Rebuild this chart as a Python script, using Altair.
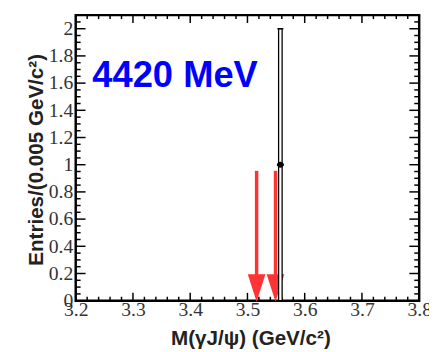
import altair as alt
import pandas as pd
import numpy as np

# ---- data ----
pt_x = [3.5575]
pt_y = [1.0]
pt_lo = [0.0]
pt_hi = [2.0]

arrow_x = [3.516, 3.549]
arrow_top = [0.955, 0.955]
arrow_head_bottom = [0.15, 0.15]
arrow_head_center = [0.094, 0.094]

x_major = [3.2, 3.3, 3.4, 3.5, 3.6, 3.7, 3.8]
y_major = [0, 0.2, 0.4, 0.6, 0.8, 1.0, 1.2, 1.4, 1.6, 1.8, 2.0]
x_minor = [v for v in np.round(np.arange(3.2, 3.8001, 0.02), 3).tolist() if round(v * 10, 6) % 1 != 0]
y_minor = [v for v in np.round(np.arange(0, 2.1001, 0.05), 3).tolist() if round(v * 5, 6) % 1 != 0]

label_text = ["4420 MeV"]
label_x = [3.229]
label_y = [1.575]

W, H = 350, 291
XD = [3.2, 3.8]
YD = [0, 2.1]

xs = alt.Scale(domain=XD, nice=False, zero=False)
ys = alt.Scale(domain=YD, nice=False, zero=False)

pts = pd.DataFrame({"x": pt_x, "y": pt_y, "lo": pt_lo, "hi": pt_hi})
arrows = pd.DataFrame({"x": arrow_x, "top": arrow_top, "hb": arrow_head_bottom, "hc": arrow_head_center})
xmaj = pd.DataFrame({"x": x_major})
xmin = pd.DataFrame({"x": x_minor})
ymaj = pd.DataFrame({"y": y_major})
ymin = pd.DataFrame({"y": y_minor})
lab = pd.DataFrame({"t": label_text, "x": label_x, "y": label_y})

xaxis = alt.Axis(
    values=x_major, format=".1f", tickSize=0, domain=False, grid=False,
    labelFont="Liberation Serif", labelFontSize=20, labelColor="#333",
    labelPadding=-1, labelFlush=False, labelOverlap=False,
    title="M(γJ/ψ) (GeV/c²)", titleFont="Liberation Sans", titleFontSize=21,
    titleFontWeight="bold", titleColor="#222", titleBaseline="middle",
    titleX=W / 2 + 3, titleY=39,
)
yaxis = alt.Axis(
    values=y_major, format="~g", tickSize=0, domain=False, grid=False,
    labelFont="Liberation Serif", labelFontSize=20, labelColor="#333",
    labelPadding=3, labelFlush=False, labelOverlap=False,
    title="Entries/(0.005 GeV/c²)", titleFont="Liberation Sans", titleFontSize=21,
    titleFontWeight="bold", titleColor="#222", titleBaseline="middle",
    titleX=-40, titleY=147, titleAngle=270,
)


def X(f):
    return alt.X(f, scale=xs, axis=xaxis)


def Y(f):
    return alt.Y(f, scale=ys, axis=yaxis)


def xticks(df, ln):
    b = alt.Chart(df).mark_rule(color="black", strokeWidth=1.5).encode(
        x=X("x:Q"), y=alt.value(H), y2=alt.value(H - ln))
    t = alt.Chart(df).mark_rule(color="black", strokeWidth=1.5).encode(
        x=X("x:Q"), y=alt.value(0), y2=alt.value(ln))
    return [b, t]


def yticks(df, ln):
    l = alt.Chart(df).mark_rule(color="black", strokeWidth=1.5).encode(
        y=Y("y:Q"), x=alt.value(0), x2=alt.value(ln))
    r = alt.Chart(df).mark_rule(color="black", strokeWidth=1.5).encode(
        y=Y("y:Q"), x=alt.value(W), x2=alt.value(W - ln))
    return [l, r]


ticks = xticks(xmaj, 8) + xticks(xmin, 4) + yticks(ymaj, 10) + yticks(ymin, 5)

errbar = alt.Chart(pts).mark_rect(
    fill="white", stroke="black", strokeWidth=1.3, xOffset=-1.8, x2Offset=1.8
).encode(x=X("x:Q"), x2="x", y=Y("lo:Q"), y2="hi")
cap = alt.Chart(pts).mark_rule(color="black", strokeWidth=1.5, xOffset=-3, x2Offset=3).encode(
    x=X("x:Q"), x2="x", y=Y("hi:Q"))
hbar = alt.Chart(pts).mark_rule(color="black", strokeWidth=2.5, xOffset=-3.5, x2Offset=3.5).encode(
    x=X("x:Q"), x2="x", y=Y("y:Q"))
dot = alt.Chart(pts).mark_point(filled=True, color="black", size=36, opacity=1, shape="circle").encode(
    x=X("x:Q"), y=Y("y:Q"))

shaft = alt.Chart(arrows).mark_rule(color="#ff3333", strokeWidth=3.5).encode(
    x=X("x:Q"), y=Y("top:Q"), y2="hb")
head = alt.Chart(arrows).mark_point(
    filled=True, color="#ff3333", opacity=1, size=324,
    shape="M-1,-1.556L1,-1.556L0,1.556Z",
).encode(x=X("x:Q"), y=Y("hc:Q"))

text = alt.Chart(lab).mark_text(
    align="left", baseline="alphabetic", font="Liberation Sans", fontSize=37,
    fontWeight="bold", color="#0000ff",
).encode(x=X("x:Q"), y=Y("y:Q"), text="t:N")

chart = alt.layer(
    *ticks, shaft, head, errbar, cap, hbar, dot, text
).properties(
    width=W, height=H,
    autosize=alt.AutoSizeParams(type="none"),
    padding={"left": 69, "top": 4, "right": 10, "bottom": 48},
    background="white",
).configure_view(stroke="black", strokeWidth=2.5)

chart.save("out.html", embed_options={"renderer": "svg", "actions": False})
